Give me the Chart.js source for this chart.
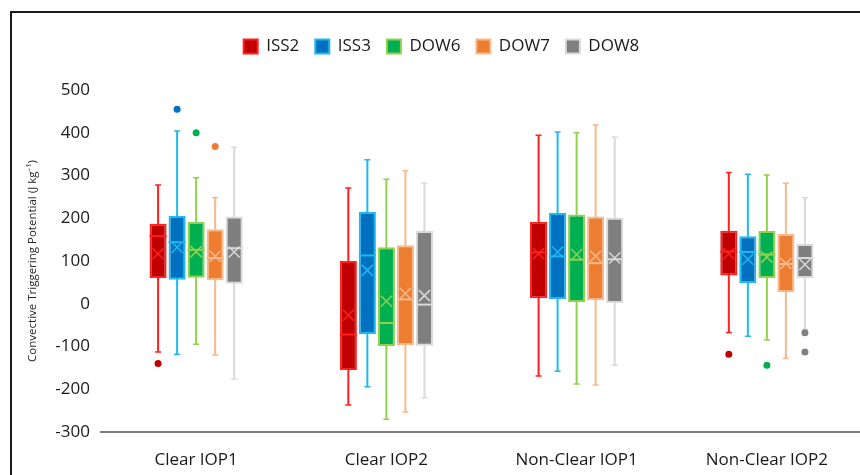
<!DOCTYPE html>
<html>
<head>
<meta charset="utf-8">
<script src="https://cdn.jsdelivr.net/npm/chart.js@4/dist/chart.umd.min.js"></script>
<style>
  body { margin: 0; overflow: hidden; background: #fff; }
  #wrap { width: 862px; height: 475px; }
</style>
</head>
<body>
<div id="wrap"><canvas id="chart_container" width="862" height="475"></canvas></div>
<script>
const categories = ['Clear IOP1', 'Clear IOP2', 'Non-Clear IOP1', 'Non-Clear IOP2']
const series     = ['ISS2', 'ISS3', 'DOW6', 'DOW7', 'DOW8']

// one row per series, one column per category
const whiskerLow  = [[-113, -237, -169, -67], [-118, -194, -158, -76], [-95, -270, -188, -85], [-120, -253, -190, -128], [-176, -220, -144, -60]]
const quartile1   = [[60, -155, 13, 66], [56, -71, 11, 48], [61, -99, 4, 60], [55, -97, 8, 27], [47, -98, 2, 60]]
const medians     = [[158, -72, 120, 122], [144, 113, 111, 121], [126, -45, 103, 115], [107, 10, 95, 93], [130, -2, 104, 107]]
const quartile3   = [[187, 100, 192, 171], [206, 215, 212, 158], [191, 132, 209, 170], [174, 137, 204, 163], [204, 170, 201, 140]]
const whiskerHigh = [[278, 271, 394, 307], [404, 337, 402, 303], [295, 291, 400, 301], [248, 311, 418, 282], [366, 282, 390, 248]]
const means       = [[117, -27, 117, 117], [132, 78, 121, 104], [122, 6, 115, 109], [111, 24, 111, 94], [121, 19, 107, 92]]
const outliers    = [[[-140], [], [], [-118]], [[455], [], [], []], [[400], [], [], [-144]], [[368], [], [], []], [[], [], [], [-68, -113]]]

const fillColors = ['#C00000', '#0070C0', '#00B050', '#ED7D31', '#7F7F7F']
const lineColors = ['#FF2020', '#20B8F0', '#92D050', '#F8B98C', '#D9D9D9']

const boxPlot = {
    id: 'boxPlot',
    beforeInit(chart){
        // leave more room under the legend
        const fit = chart.legend.fit
        chart.legend.fit = function(){
            fit.call(this)
            this.height += 25
        }
    },
    beforeDatasetsDraw(chart){
        const ctx = chart.ctx
        const y   = chart.scales.y
        series.forEach((s, i) => {
            chart.getDatasetMeta(i).data.forEach((bar, j) => {
                const top = y.getPixelForValue(whiskerHigh[i][j])
                const bot = y.getPixelForValue(whiskerLow[i][j])
                ctx.save()
                ctx.strokeStyle = lineColors[i]
                ctx.lineWidth = 2
                ctx.beginPath()
                ctx.moveTo(bar.x, top); ctx.lineTo(bar.x, bot)
                ctx.stroke()
                ctx.lineWidth = 1.5
                ctx.beginPath()
                ctx.moveTo(bar.x - 3, top); ctx.lineTo(bar.x + 3, top)
                ctx.moveTo(bar.x - 3, bot); ctx.lineTo(bar.x + 3, bot)
                ctx.stroke()
                ctx.restore()
            })
        })
    },
    afterDatasetsDraw(chart){
        const ctx = chart.ctx
        const y   = chart.scales.y
        series.forEach((s, i) => {
            chart.getDatasetMeta(i).data.forEach((bar, j) => {
                const half = bar.width / 2
                const med  = y.getPixelForValue(medians[i][j])
                const mn   = y.getPixelForValue(means[i][j])
                ctx.save()
                ctx.strokeStyle = lineColors[i]
                ctx.lineWidth = 2
                ctx.beginPath()
                ctx.moveTo(bar.x - half, med); ctx.lineTo(bar.x + half, med)
                ctx.stroke()
                ctx.lineWidth = 1.5
                ctx.beginPath()
                ctx.moveTo(bar.x - 5.5, mn - 5.5); ctx.lineTo(bar.x + 5.5, mn + 5.5)
                ctx.moveTo(bar.x + 5.5, mn - 5.5); ctx.lineTo(bar.x - 5.5, mn + 5.5)
                ctx.stroke()
                ctx.fillStyle = i == 4 ? '#808080' : fillColors[i]
                outliers[i][j].forEach(v => {
                    ctx.beginPath()
                    ctx.arc(bar.x, y.getPixelForValue(v), 3.5, 0, Math.PI * 2)
                    ctx.fill()
                })
                ctx.restore()
            })
        })
    },
    beforeDraw(chart){
        // outer frame of the figure
        const ctx = chart.ctx
        ctx.save()
        ctx.strokeStyle = '#1a1a1a'
        ctx.lineWidth = 2
        ctx.beginPath()
        ctx.moveTo(11, 480); ctx.lineTo(11, 12); ctx.lineTo(870, 12)
        ctx.stroke()
        ctx.restore()
    }
}

const canvas = document.getElementById('chart_container')
new Chart(canvas, {
    type: 'bar',
    data: {
        labels: categories,
        datasets: series.map((s, i) => ({
            label: s,
            data: quartile1[i].map((q, j) => [q, quartile3[i][j]]),
            backgroundColor: fillColors[i],
            borderColor: lineColors[i],
            borderWidth: 2,
            borderSkipped: false,
            categoryPercentage: 0.5,
            barPercentage: 0.9
        }))
    },
    options: {
        responsive: false,
        devicePixelRatio: 1,
        animation: false,
        layout: { padding: { top: 22, left: 21, right: 0, bottom: 0 } },
        plugins: {
            legend: {
                position: 'top',
                labels: {
                    boxWidth: 14,
                    boxHeight: 14,
                    padding: 16,
                    color: '#1a1a1a',
                    font: { family: 'Open Sans', size: 17 }
                }
            },
            tooltip: { enabled: false }
        },
        scales: {
            x: {
                grid: { display: false, drawTicks: false },
                border: { display: true, color: '#7F7F7F', width: 2 },
                ticks: { color: '#1a1a1a', padding: 18, font: { family: 'Open Sans', size: 17 } },
                afterFit: scale => { scale.height = 43 }
            },
            y: {
                min: -300,
                max: 500,
                grid: { display: false, drawTicks: false },
                border: { display: false },
                ticks: { stepSize: 100, color: '#1a1a1a', padding: 11, font: { family: 'Open Sans', size: 17 } },
                title: {
                    display: true,
                    text: 'Convective Triggering Potential (J kg⁻¹)',
                    color: '#262626',
                    font: { family: 'Open Sans', size: 11.5 },
                    padding: { top: 5, bottom: 4 }
                },
                afterFit: scale => { scale.width = 80 }
            }
        }
    },
    plugins: [boxPlot]
})
</script>
</body>
</html>
